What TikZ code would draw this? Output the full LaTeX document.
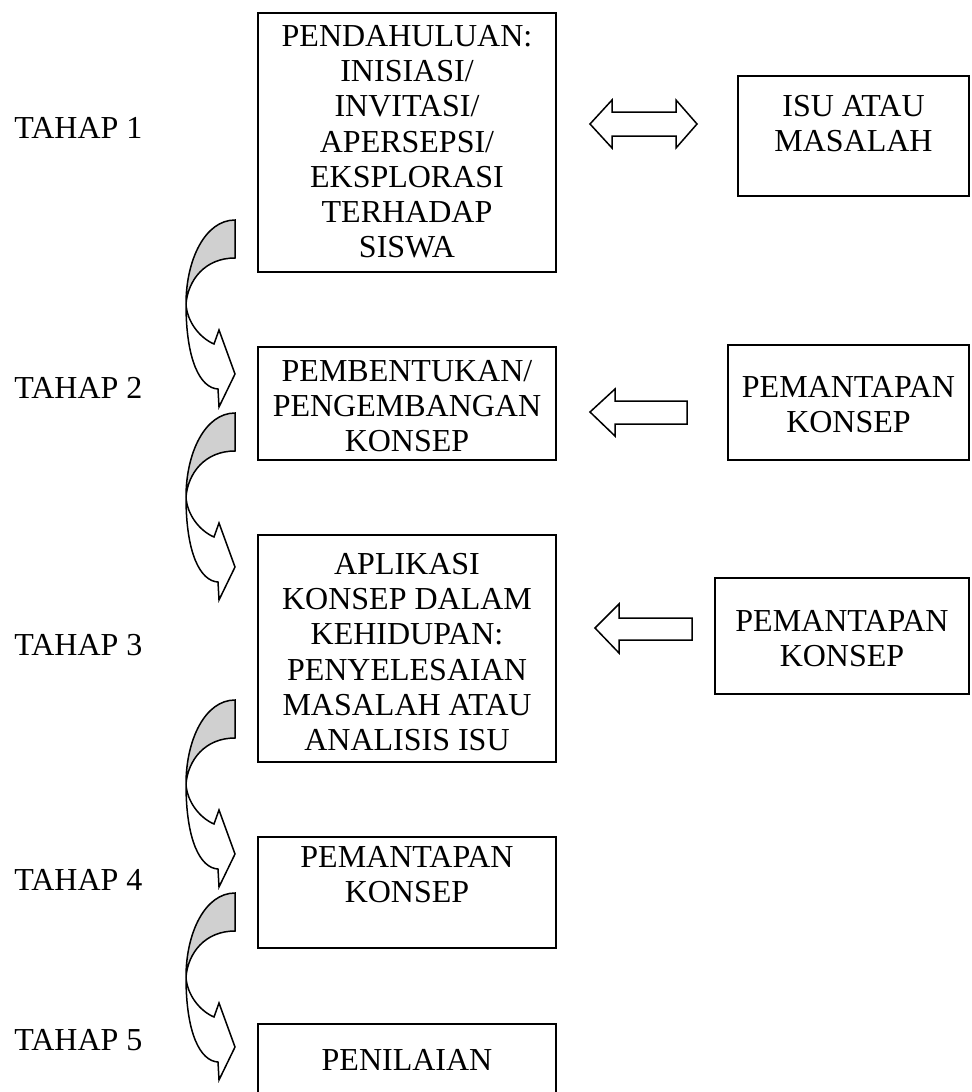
\documentclass[tikz,border=0pt]{standalone}
\usepackage{fontspec}
\setmainfont{Liberation Serif}
\usetikzlibrary{positioning,fit}
\definecolor{curvegrey}{RGB}{208,208,208}

\begin{document}
\begin{tikzpicture}[
    x=0.5pt, y=-0.5pt,
    box/.style={draw=black, line width=1pt, inner sep=0pt},
    txt/.style={align=center, anchor=north, inner sep=0pt, font=\fontsize{16}{17.6}\selectfont},
    stage/.style={anchor=west, inner sep=0pt, font=\fontsize{16}{17.6}\selectfont},
    blockarrow/.style={draw=black, line width=0.75pt, fill=white, line join=miter},
    backpart/.style={draw=black, line width=0.75pt, fill=curvegrey}
  ]
  \useasboundingbox (0,0) rectangle (972,1092);

  % Stages
  \node[stage] (S1) at (14,128) {TAHAP 1};
  \node[stage] (S2) at (14,388) {TAHAP 2};
  \node[stage] (S3) at (14,645) {TAHAP 3};
  \node[stage] (S4) at (14,880) {TAHAP 4};
  \node[stage] (S5) at (14,1040) {TAHAP 5};

  % Main boxes
  \node[box, fit={(258,13) (556,272)}] (B1) {};
  \node[txt, below=6.5pt of B1.north] (T1) {PENDAHULUAN:\\INISIASI/\\INVITASI/\\APERSEPSI/\\EKSPLORASI\\TERHADAP\\SISWA};

  \node[box, fit={(258,347) (556,460)}] (B2) {};
  \node[txt, below=7pt of B2.north] (T2) {PEMBENTUKAN/\\PENGEMBANGAN\\KONSEP};

  \node[box, fit={(258,535) (556,762)}] (B3) {};
  \node[txt, below=9.5pt of B3.north] (T3) {APLIKASI\\KONSEP DALAM\\KEHIDUPAN:\\PENYELESAIAN\\MASALAH ATAU\\ANALISIS ISU};

  \node[box, fit={(258,837) (556,948)}] (B4) {};
  \node[txt, below=5pt of B4.north] (T4) {PEMANTAPAN\\KONSEP};

  \node[box, fit={(258,1024) (556,1110)}] (B5) {};
  \node[txt, below=13pt of B5.north] (T5) {PENILAIAN};

  % Side boxes
  \node[box, fit={(738,76) (969,196)}] (R1) {};
  \node[txt, below=10pt of R1.north] (U1) {ISU ATAU\\MASALAH};

  \node[box, fit={(728,345) (969,460)}] (R2) {};
  \node[txt, below=16pt of R2.north] (U2) {PEMANTAPAN\\KONSEP};

  \node[box, fit={(715,578) (969,694)}] (R3) {};
  \node[txt, below=16.5pt of R3.north] (U3) {PEMANTAPAN\\KONSEP};

  % Block arrows between the columns
  \draw[blockarrow] (590,124) -- (612,100) -- (612,112) -- (676,112) -- (676,100) -- (697,124)
    -- (676,148) -- (676,136) -- (612,136) -- (612,148) -- cycle;
  \draw[blockarrow] (590,412) -- (615,389) -- (615,401) -- (687,401) -- (687,424) -- (615,424)
    -- (615,436) -- cycle;
  \draw[blockarrow] (595,628) -- (619,604) -- (619,618) -- (692,618) -- (692,640) -- (619,640)
    -- (619,653) -- cycle;

  % Curved arrows down the stages
  \foreach \t in {220,413,700,893} {
    \begin{scope}[shift={(0,\t)}]
      \draw[blockarrow] (186,84) .. controls (186,140) and (200,168) .. (218,169) -- (219,187)
        -- (235,154) -- (219,110) -- (214,124) .. controls (200,118) and (187,102) .. (186,84) -- cycle;
      \draw[backpart] (235,0) .. controls (205,0) and (186,40) .. (186,84)
        .. controls (188,60) and (205,38) .. (235,38) -- cycle;
    \end{scope}
  }

\end{tikzpicture}
\end{document}
